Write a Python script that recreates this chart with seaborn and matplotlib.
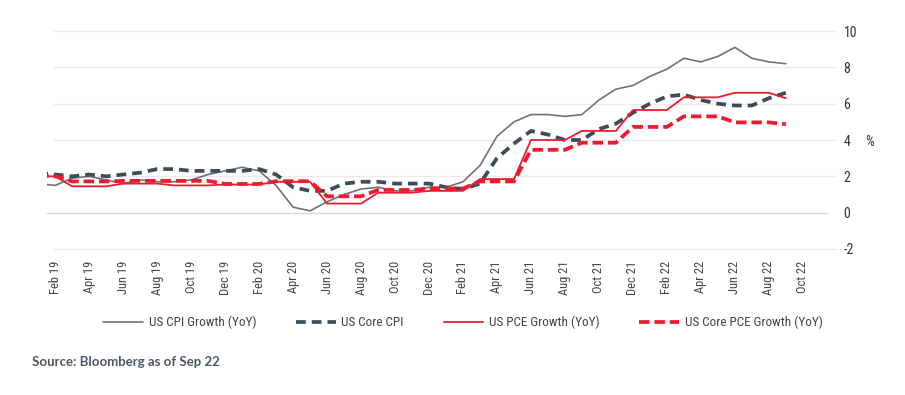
import numpy as np
import pandas as pd
import seaborn as sns
import matplotlib.pyplot as plt
from matplotlib import transforms

# monthly values, Jan 2019 .. Sep 2022
months = pd.date_range("2019-01-01", "2022-09-01", freq="MS").strftime("%b %y").tolist()

cpi = [1.6, 1.5, 1.9, 2.0, 1.8, 1.6, 1.8, 1.7, 1.7, 1.8, 2.1, 2.3,
       2.5, 2.3, 1.5, 0.3, 0.1, 0.6, 1.0, 1.3, 1.4, 1.2, 1.2, 1.4,
       1.4, 1.7, 2.6, 4.2, 5.0, 5.4, 5.4, 5.3, 5.4, 6.2, 6.8, 7.0,
       7.5, 7.9, 8.5, 8.3, 8.6, 9.1, 8.5, 8.3, 8.2]
core_cpi = [2.2, 2.1, 2.0, 2.1, 2.0, 2.1, 2.2, 2.4, 2.4, 2.3, 2.3, 2.3,
            2.3, 2.4, 2.1, 1.4, 1.2, 1.2, 1.6, 1.7, 1.7, 1.6, 1.6, 1.6,
            1.4, 1.3, 1.6, 3.0, 3.8, 4.5, 4.3, 4.0, 4.0, 4.6, 4.9, 5.5,
            6.0, 6.4, 6.5, 6.2, 6.0, 5.9, 5.9, 6.3, 6.6]
pce = [2.0, 2.0, 1.45, 1.45, 1.45, 1.6, 1.6, 1.6, 1.5, 1.5, 1.5, 1.55,
       1.55, 1.55, 1.7, 1.7, 1.7, 0.5, 0.5, 0.5, 1.1, 1.1, 1.1, 1.2,
       1.2, 1.2, 1.85, 1.85, 1.85, 4.0, 4.0, 4.0, 4.5, 4.5, 4.5, 5.65,
       5.65, 5.65, 6.35, 6.35, 6.35, 6.6, 6.6, 6.6, 6.3]
core_pce = [2.05, 2.0, 1.72, 1.72, 1.72, 1.75, 1.75, 1.75, 1.75, 1.75, 1.75, 1.58,
            1.58, 1.58, 1.73, 1.73, 1.73, 0.9, 0.9, 0.9, 1.25, 1.25, 1.25, 1.33,
            1.33, 1.33, 1.72, 1.72, 1.72, 3.46, 3.46, 3.46, 3.85, 3.85, 3.85, 4.72,
            4.72, 4.72, 5.3, 5.3, 5.3, 4.97, 4.97, 4.97, 4.87]

tick_labels = pd.date_range("2019-02-01", "2022-10-01", freq="2MS").strftime("%b %y").tolist()
y_ticks = [-2, 0, 2, 4, 6, 8, 10]

# x in months from the Feb 19 tick; points sit mid-month
x = np.arange(len(months)) - 0.5
df = pd.DataFrame({"x": x, "cpi": cpi, "core_cpi": core_cpi, "pce": pce, "core_pce": core_pce})

sns.set_theme(style="white")
plt.rcParams["font.family"] = ["Roboto Condensed", "Liberation Sans Narrow", "DejaVu Sans"]
plt.rcParams["font.stretch"] = "condensed"
plt.rcParams["axes.unicode_minus"] = False

fig = plt.figure(figsize=(9.05, 3.95), dpi=100)
ax = fig.add_axes([46.7 / 905, 1 - 249 / 395, 781.6 / 905, 218 / 395])

gray = "#6e7378"
slate = "#3d4d58"
red = "#ec1c2e"

sns.lineplot(data=df, x="x", y="cpi", ax=ax, color=gray, lw=1.2, label="US CPI Growth (YoY)")
sns.lineplot(data=df, x="x", y="core_cpi", ax=ax, color=slate, lw=2.7,
             linestyle=(0, (2.6, 1.6)), label="US Core CPI")
sns.lineplot(data=df, x="x", y="pce", ax=ax, color=red, lw=1.3, label="US PCE Growth (YoY)")
sns.lineplot(data=df, x="x", y="core_pce", ax=ax, color=red, lw=2.7,
             linestyle=(0, (2.8, 1.3)), label="US Core PCE Growth (YoY)")

ax.set_xlim(0, 46)
ax.set_ylim(-2, 10)

# gridlines are drawn a little to the right of the axis, as in the source
trans = transforms.blended_transform_factory(ax.transAxes, ax.transData)
for yv in y_ticks:
    if yv != 0:
        ax.plot([0.0093, 1.0099], [yv, yv], transform=trans, color="#ebebeb",
                lw=1.0, clip_on=False, zorder=0)

for s in ["top", "left", "right"]:
    ax.spines[s].set_visible(False)
ax.spines["bottom"].set_position(("data", 0))
ax.spines["bottom"].set_color("#d9d9d9")
ax.spines["bottom"].set_linewidth(1.0)

ax.set_xticks(np.arange(len(tick_labels)) * 2 + 0.5)
ax.set_xticklabels(tick_labels, rotation=90, fontsize=9, color="#444444")
ax.set_xticks(np.arange(0, 47, 2), minor=True)
ax.tick_params(axis="x", which="major", length=0, pad=34.5)
ax.tick_params(axis="x", which="minor", length=3.6, width=1.0, color="#d9d9d9", direction="out")

ax.yaxis.tick_right()
ax.set_yticks(y_ticks)
ax.set_yticklabels([str(v) for v in y_ticks], fontsize=10, color="#333333")
ax.tick_params(axis="y", length=0, pad=11)
ax.set_xlabel("")
ax.set_ylabel("")

fig.text(870 / 905, 1 - 142 / 395, "%", fontsize=10, color="#333333", ha="center", va="center")

handles, labels = ax.get_legend_handles_labels()
ax.get_legend().remove()
fig.legend(handles, labels, loc="center", bbox_to_anchor=(463 / 905, 1 - 322.7 / 395), ncol=4,
           frameon=False, fontsize=9.5, handlelength=3.0, handletextpad=0.45,
           columnspacing=3.0, labelcolor="#444444")

fig.text(31.7 / 905, 1 - 361.7 / 395, "Source: Bloomberg as of Sep 22", fontsize=9.5,
         family=["Lato", "DejaVu Sans"], fontweight="bold", stretch="normal",
         color="#4a5866", ha="left", va="center")

fig.savefig("out.png", dpi=100)
